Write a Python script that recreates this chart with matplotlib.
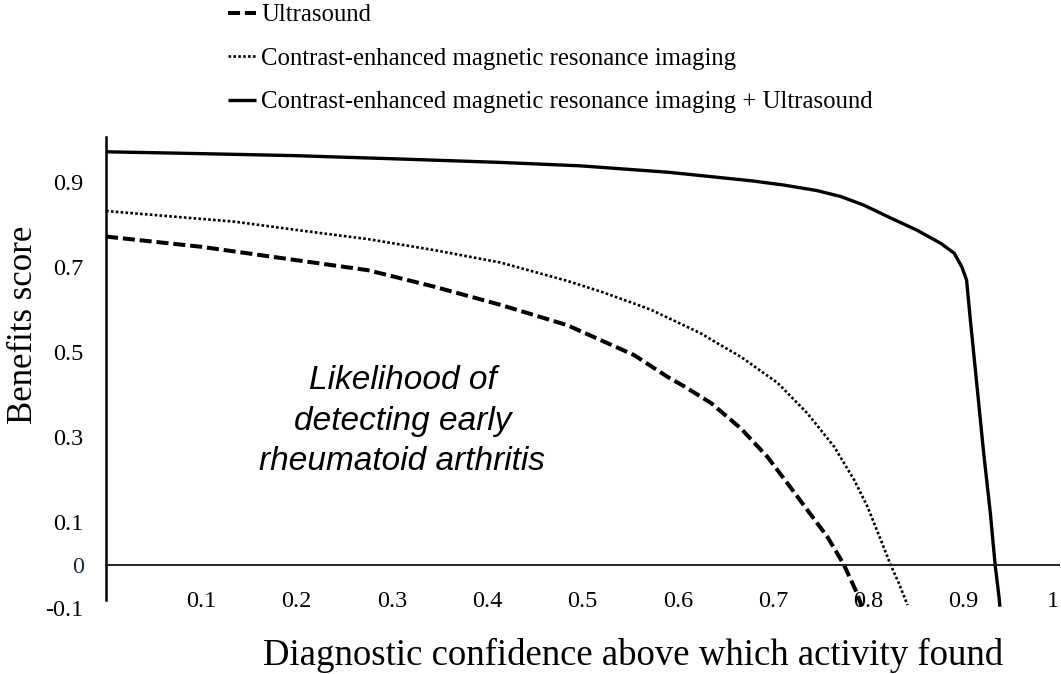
import matplotlib
matplotlib.use('Agg')
import matplotlib.pyplot as plt

plt.rcParams['font.family'] = ['Liberation Serif', 'DejaVu Serif']

# values
conf_us = [0.0, 0.10, 0.205, 0.275, 0.345, 0.415, 0.484, 0.519, 0.554, 0.589, 0.607, 0.635,
           0.666, 0.694, 0.715, 0.736, 0.757, 0.774, 0.788, 0.793]
benefit_us = [0.771, 0.747, 0.714, 0.692, 0.653, 0.610, 0.563, 0.528, 0.493, 0.442, 0.419, 0.380,
              0.321, 0.254, 0.192, 0.129, 0.066, 0.002, -0.066, -0.097]

conf_mri = [0.0, 0.135, 0.205, 0.275, 0.345, 0.414, 0.484, 0.519, 0.554, 0.572, 0.624, 0.642,
            0.666, 0.705, 0.736, 0.764, 0.785, 0.799, 0.813, 0.823, 0.832, 0.841]
benefit_mri = [0.831, 0.806, 0.785, 0.765, 0.739, 0.710, 0.667, 0.642, 0.614, 0.599, 0.544, 0.520,
               0.489, 0.427, 0.356, 0.278, 0.200, 0.137, 0.059, 0.002, -0.043, -0.094]

conf_both = [0.0, 0.093, 0.198, 0.31, 0.415, 0.498, 0.59, 0.677, 0.711, 0.746, 0.771, 0.795,
             0.823, 0.851, 0.876, 0.890, 0.898, 0.903, 0.907, 0.914, 0.921, 0.928, 0.933,
             0.937, 0.938]
benefit_both = [0.970, 0.966, 0.961, 0.953, 0.945, 0.937, 0.922, 0.902, 0.892, 0.879, 0.865, 0.845,
                0.815, 0.786, 0.755, 0.732, 0.700, 0.669, 0.575, 0.419, 0.262, 0.121, 0.0,
                -0.074, -0.098]

series_labels = ['Ultrasound',
                 'Contrast-enhanced magnetic resonance imaging',
                 'Contrast-enhanced magnetic resonance imaging + Ultrasound']

x_ticks = [0.1, 0.2, 0.3, 0.4, 0.5, 0.6, 0.7, 0.8, 0.9, 1.0]
x_tick_labels = ['0.1', '0.2', '0.3', '0.4', '0.5', '0.6', '0.7', '0.8', '0.9', '1']
y_ticks = [0.9, 0.7, 0.5, 0.3, 0.1, 0.0, -0.1]
y_tick_labels = ['0.9', '0.7', '0.5', '0.3', '0.1', '0', '-0.1']

W, H = 1061, 674
fig = plt.figure(figsize=(W / 100, H / 100), dpi=100)
ax = fig.add_axes([106 / W, 0.0985, 953 / W, 0.6984])

ax.plot(conf_us, benefit_us, color='black', lw=2.9, dashes=(3, 1.2), label=series_labels[0])
ax.plot(conf_mri, benefit_mri, color='black', lw=1.9, dashes=(1.0, 0.85), label=series_labels[1])
ax.plot(conf_both, benefit_both, color='black', lw=2.4, solid_capstyle='butt',
        solid_joinstyle='round', label=series_labels[2])

ax.set_xlim(0, 1)
ax.set_ylim(-0.1, 1.005)
ax.spines['top'].set_visible(False)
ax.spines['right'].set_visible(False)
ax.spines['bottom'].set_position(('data', 0))
ax.spines['bottom'].set_linewidth(1.4)
ax.spines['bottom'].set_color('#222222')
ax.spines['left'].set_linewidth(1.8)
ax.spines['left'].set_bounds(-0.082, 1.005)

ax.set_xticks(x_ticks, labels=x_tick_labels)
ax.set_yticks(y_ticks, labels=y_tick_labels)
ax.tick_params(length=0, labelsize=17.5)
ax.tick_params(axis='x', pad=19)
ax.tick_params(axis='y', pad=16)
ax.get_yticklabels()[5].set_color('#1c2a4a')
ax.get_xticklabels()[-1].set_ha('right')

ax.text(0.311, 0.338, 'Likelihood of\ndetecting early\nrheumatoid arthritis',
        family=['Liberation Sans', 'DejaVu Sans'], style='italic', fontsize=24,
        ha='center', va='center', multialignment='center', linespacing=1.4)

fig.text(633 / W, 1 - 655 / H, 'Diagnostic confidence above which activity found',
         fontsize=26.5, ha='center', va='center')
fig.text(24 / W, 1 - 325 / H, 'Benefits score', fontsize=25, rotation=90,
         ha='center', va='center')

fig.legend(loc='upper left', bbox_to_anchor=(228 / W, 1 - 4 / H), frameon=False,
           fontsize=17.8, handlelength=1.15, handletextpad=0.2, labelspacing=0.86,
           borderpad=0, borderaxespad=0)

fig.savefig('out.png', dpi=100)
